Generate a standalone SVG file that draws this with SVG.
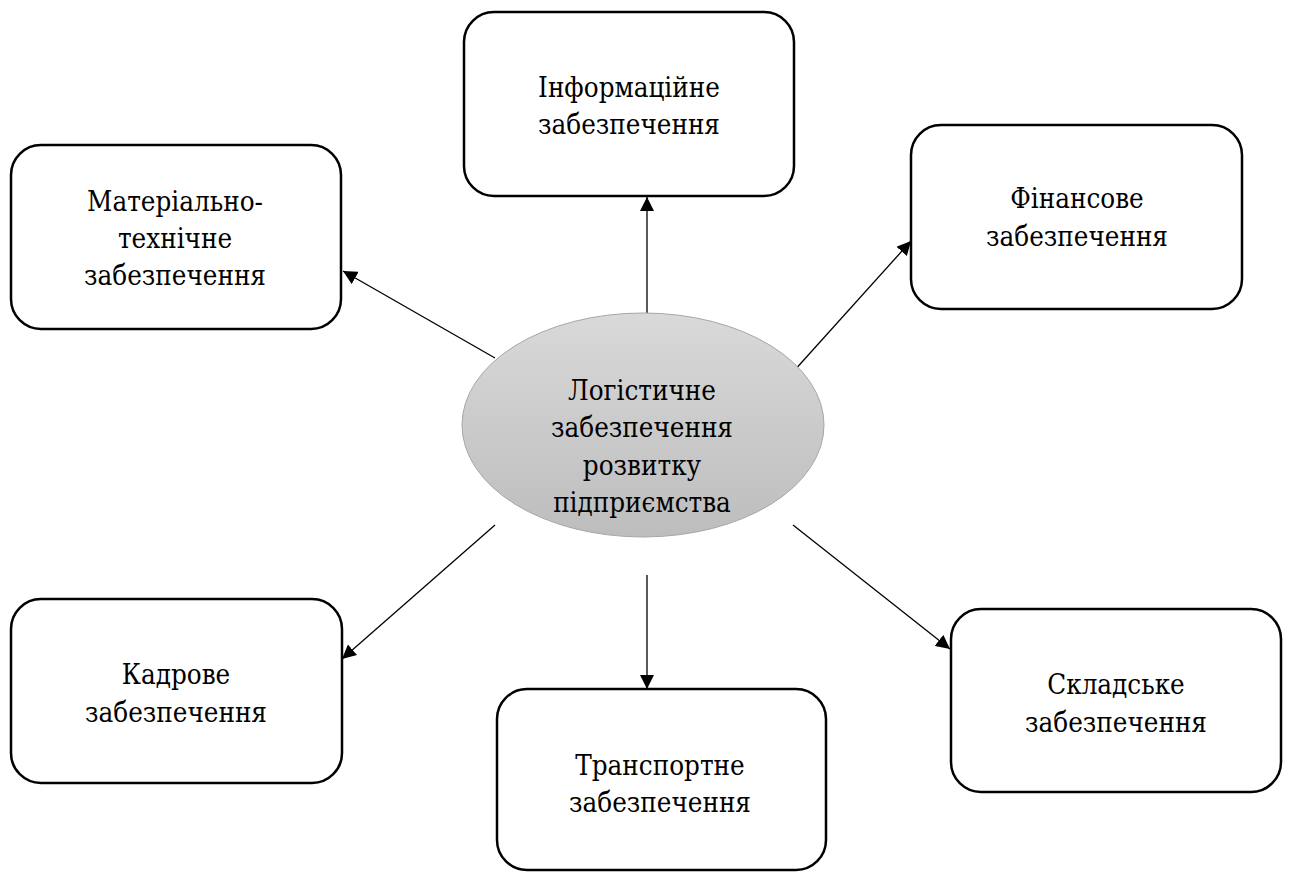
<svg xmlns="http://www.w3.org/2000/svg" width="1289" height="872" viewBox="0 0 1289 872">
<defs>
<linearGradient id="g" x1="0" y1="0" x2="0" y2="1">
<stop offset="0" stop-color="#d9d9d9"/>
<stop offset="1" stop-color="#bdbdbd"/>
</linearGradient>
<marker id="ah" viewBox="0 0 10 10" refX="10" refY="5" markerWidth="14" markerHeight="14" markerUnits="userSpaceOnUse" orient="auto">
<path d="M0,0 L10,5 L0,10 z" fill="#000"/>
</marker>
<style>
.box{fill:#fff;stroke:#000;stroke-width:2.5}
.c{stroke:#000;stroke-width:1.3;fill:none;marker-end:url(#ah)}
</style>
</defs>
<rect width="1289" height="872" fill="#fff"/>
<g id="connectors">
<line class="c" x1="647" y1="313" x2="647" y2="197"/>
<line class="c" x1="495" y1="358" x2="343" y2="271"/>
<line class="c" x1="793" y1="372" x2="911" y2="241"/>
<line class="c" x1="495" y1="525" x2="342" y2="659"/>
<line class="c" x1="647" y1="575" x2="647" y2="689"/>
<line class="c" x1="793" y1="525" x2="950" y2="649"/>
</g>
<g font-family="'DejaVu Serif Condensed', 'DejaVu Serif', serif" font-size="27.5" fill="#000" text-anchor="middle">
<g id="center">
<ellipse cx="643" cy="425" rx="181" ry="112" fill="url(#g)" stroke="#a6a6a6" stroke-width="1"/>
<text x="642" y="400">Логістичне</text>
<text x="642" y="437">забезпечення</text>
<text x="642" y="475">розвитку</text>
<text x="642" y="512">підприємства</text>
</g>
<g id="info">
<rect class="box" x="464" y="12" width="330" height="184" rx="30"/>
<text x="629" y="97">Інформаційне</text>
<text x="629" y="134">забезпечення</text>
</g>
<g id="material">
<rect class="box" x="11" y="145" width="330" height="184" rx="30"/>
<text x="175" y="211">Матеріально-</text>
<text x="175" y="248">технічне</text>
<text x="175" y="285">забезпечення</text>
</g>
<g id="finance">
<rect class="box" x="911" y="125" width="331" height="184" rx="30"/>
<text x="1077" y="208">Фінансове</text>
<text x="1077" y="246">забезпечення</text>
</g>
<g id="staff">
<rect class="box" x="11" y="599" width="331" height="184" rx="30"/>
<text x="176" y="684">Кадрове</text>
<text x="176" y="722">забезпечення</text>
</g>
<g id="transport">
<rect class="box" x="497" y="689" width="329" height="181" rx="30"/>
<text x="660" y="775">Транспортне</text>
<text x="660" y="812">забезпечення</text>
</g>
<g id="warehouse">
<rect class="box" x="951" y="609" width="330" height="183" rx="30"/>
<text x="1116" y="694">Складське</text>
<text x="1116" y="732">забезпечення</text>
</g>
</g>
</svg>
